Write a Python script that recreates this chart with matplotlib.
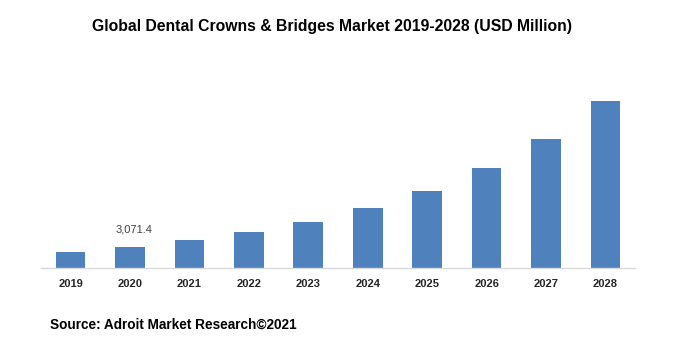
import matplotlib
matplotlib.use("Agg")
import matplotlib.pyplot as plt

years = ["2019", "2020", "2021", "2022", "2023", "2024", "2025", "2026", "2027", "2028"]
values = [2340, 3071.4, 4100, 5270, 6730, 8780, 11270, 14630, 18870, 24430]
labelled = {1: "3,071.4"}

plt.rcParams['font.family'] = ['Liberation Sans', 'DejaVu Sans']

W, H = 680, 355
fig = plt.figure(figsize=(W / 100, H / 100), dpi=100)
left, right = 40.8, 635.2
bottom, top = 268, 63
ax = fig.add_axes([left / W, 1 - bottom / H, (right - left) / W, (bottom - top) / H])

x = list(range(len(years)))
ax.bar(x, values, width=0.5, color="#4f81bd")
ax.set_xlim(-0.5, len(years) - 0.5)
ax.set_ylim(0, 30000)
ax.set_yticks([])
ax.set_xticks(x)
ax.set_xticklabels(years, fontsize=8, fontweight="bold", color="#262626")
ax.tick_params(axis="x", length=0, pad=8)
for s in ["top", "right", "left"]:
    ax.spines[s].set_visible(False)
ax.spines["bottom"].set_color("#d9d9d9")
ax.spines["bottom"].set_linewidth(1)

for i, t in labelled.items():
    ax.annotate(t, (i, values[i]), xytext=(3, 9), textcoords="offset points",
                ha="center", va="bottom", fontsize=8, color="#404040")

fig.text(331.5 / W, 1 - 27 / H, "Global Dental Crowns & Bridges Market 2019-2028 (USD Million)",
         ha="center", va="center", fontsize=11.3, fontweight="bold", color="black")
fig.text(50 / W, 1 - 325 / H, "Source: Adroit Market Research\u00a92021",
         ha="left", va="center", fontsize=9.8, fontweight="bold", color="black")

fig.savefig("out.png", dpi=100)
